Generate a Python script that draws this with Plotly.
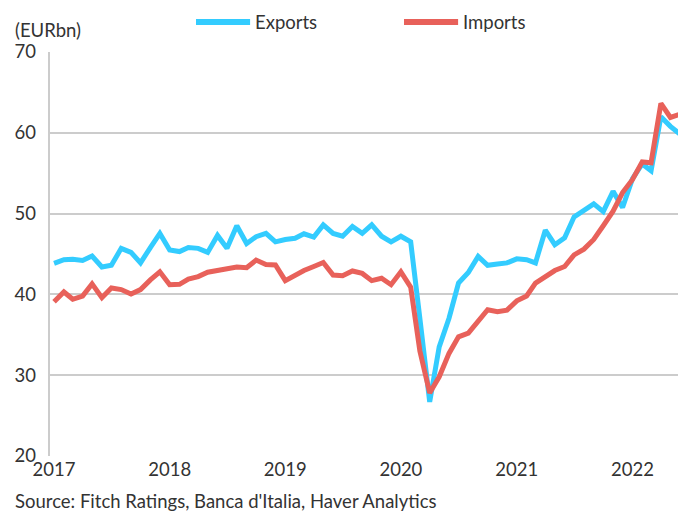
import pandas as pd
import plotly.graph_objects as go

# monthly values, Jan 2017 - Jun 2022 (EUR bn)
months = pd.date_range("2017-01-01", "2022-06-01", freq="MS")

exports = [
    43.85, 44.3, 44.35, 44.2, 44.75, 43.4, 43.6, 45.7, 45.2, 43.9, 45.8, 47.55,
    45.5, 45.3, 45.8, 45.7, 45.2, 47.3, 45.7, 48.5, 46.3, 47.15, 47.55, 46.5,
    46.8, 46.95, 47.5, 47.1, 48.6, 47.55, 47.2, 48.4, 47.55, 48.6, 47.2, 46.5,
    47.2, 46.5, 37.0, 26.7, 33.5, 37.05, 41.4, 42.7, 44.7, 43.6, 43.75, 43.9,
    44.4, 44.3, 43.9, 47.95, 46.15, 47.0, 49.6, 50.35, 51.2, 50.25, 52.75, 50.75,
    54.3, 56.15, 55.3, 62.0, 60.8, 59.8,
]
imports = [
    39.1, 40.3, 39.4, 39.8, 41.3, 39.6, 40.8, 40.6, 40.05, 40.6, 41.8, 42.8,
    41.2, 41.25, 41.9, 42.2, 42.75, 43.0, 43.15, 43.4, 43.3, 44.25, 43.7, 43.65,
    41.7, 42.4, 42.95, 43.45, 43.95, 42.4, 42.3, 42.9, 42.6, 41.7, 42.0, 41.2,
    42.8, 40.9, 33.0, 27.8, 29.8, 32.7, 34.75, 35.2, 36.6, 38.1, 37.85, 38.05,
    39.2, 39.8, 41.4, 42.2, 42.95, 43.45, 44.9, 45.6, 46.8, 48.5, 50.3, 52.6,
    54.2, 56.4, 56.3, 63.65, 61.9, 62.3,
]

series_names = ["Exports", "Imports"]
colors = {"Exports": "#33ccff", "Imports": "#e8615a"}
year_ticks = ["2017", "2018", "2019", "2020", "2021", "2022"]

FONT = "Lato, 'Open Sans', sans-serif"
TXT = "#333333"
GRID = "#cccccc"
FS = 18.5

fig = go.Figure()
for name, vals in zip(series_names, [exports, imports]):
    fig.add_trace(go.Scatter(
        x=months, y=vals, mode="lines", name=name,
        line=dict(color=colors[name], width=5),
        showlegend=False,
    ))

# hand-made legend above the plot
legend_pos = {"Exports": 0.2337, "Imports": 0.5644}
for name in series_names:
    x0 = legend_pos[name]
    fig.add_shape(type="line", xref="paper", yref="paper",
                  x0=x0, x1=x0 + 0.086, y0=1.074, y1=1.074,
                  line=dict(color=colors[name], width=6))
    fig.add_annotation(xref="paper", yref="paper", x=x0 + 0.090, y=1.074,
                       text=name, showarrow=False, xanchor="left", yanchor="middle",
                       font=dict(size=FS, color=TXT, family=FONT))

fig.add_annotation(xref="paper", yref="paper", x=-0.0572, y=1.054,
                   text="(EURbn)", showarrow=False, xanchor="left", yanchor="middle",
                   font=dict(size=FS, color=TXT, family=FONT))
# source line sits right at the bottom edge
fig.add_annotation(xref="paper", yref="paper", x=-0.0572, y=-0.1425,
                   text="Source: Fitch Ratings, Banca d'Italia, Haver Analytics",
                   showarrow=False, xanchor="left", yanchor="bottom",
                   font=dict(size=FS, color=TXT, family=FONT))

fig.update_layout(
    width=678, height=515,
    margin=dict(l=49, r=0, t=52, b=59),
    paper_bgcolor="white", plot_bgcolor="white",
    font=dict(family=FONT, size=FS, color=TXT),
)
fig.update_xaxes(
    range=["2016-12-16", "2022-05-25"],
    tickvals=pd.to_datetime([y + "-01-01" for y in year_ticks]),
    ticktext=year_ticks,
    showgrid=False, showline=False, zeroline=False,
    ticks="", tickfont=dict(size=FS, color=TXT),
)
fig.update_yaxes(
    range=[20, 70], dtick=10,
    showgrid=True, gridcolor=GRID, gridwidth=1.5,
    showline=False, zeroline=False,
    ticks="", ticklabelstandoff=12,
    tickfont=dict(size=FS, color=TXT),
)
# left frame line
fig.add_shape(type="line", xref="paper", yref="paper", x0=0, x1=0, y0=0, y1=1,
              line=dict(color=GRID, width=2))

# drop the page's default body margin so the figure sits at the window corner
fig.write_html("out.html", config={"displayModeBar": False},
               post_script="document.body.style.margin='0';")
